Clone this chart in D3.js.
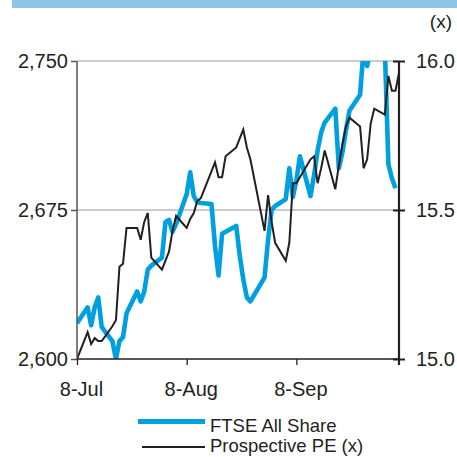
<!DOCTYPE html>
<html>
<head>
<meta charset="utf-8">
<script src="https://cdn.jsdelivr.net/npm/d3@7"></script>
<style>
  html, body { margin: 0; padding: 0; background: #fff; }
  svg { display: block; font-family: "Liberation Sans", Arial, Helvetica, sans-serif; }
</style>
</head>
<body>
<svg id="chart" width="457" height="457"></svg>
<script>
// Daily closes, 8 Jul – 7 Oct 2005 (LSE trading days)
const tradingDays = [
  "2005-07-08","2005-07-11","2005-07-12","2005-07-13","2005-07-14","2005-07-15",
  "2005-07-18","2005-07-19","2005-07-20","2005-07-21","2005-07-22",
  "2005-07-25","2005-07-26","2005-07-27","2005-07-28","2005-07-29",
  "2005-08-01","2005-08-02","2005-08-03","2005-08-04","2005-08-05",
  "2005-08-08","2005-08-09","2005-08-10","2005-08-11","2005-08-12",
  "2005-08-15","2005-08-16","2005-08-17","2005-08-18","2005-08-19",
  "2005-08-22","2005-08-23","2005-08-24","2005-08-25","2005-08-26",
  "2005-08-30","2005-08-31","2005-09-01","2005-09-02",
  "2005-09-05","2005-09-06","2005-09-07","2005-09-08","2005-09-09",
  "2005-09-12","2005-09-13","2005-09-14","2005-09-15","2005-09-16",
  "2005-09-19","2005-09-20","2005-09-21","2005-09-22","2005-09-23",
  "2005-09-26","2005-09-27","2005-09-28","2005-09-29","2005-09-30",
  "2005-10-03","2005-10-04","2005-10-05","2005-10-06","2005-10-07"
];

// FTSE All Share index level (left axis)
const ftseAllShare = [
  2618, 2626, 2617, 2626, 2631, 2616,
  2609, 2600, 2609, 2611, 2623,
  2634, 2629, 2634, 2645, 2647,
  2651, 2669, 2670, 2664, 2668,
  2683, 2694, 2682, 2679, 2678.5,
  2678, 2657, 2642, 2663, 2664,
  2667, 2652, 2640, 2631, 2629,
  2641, 2660, 2675, 2677,
  2680.5, 2696, 2681.5, 2690, 2702,
  2682, 2692.5, 2705, 2714, 2719,
  2726, 2696, 2704, 2715, 2725,
  2733, 2756, 2747.5, 2756, 2756,
  2756, 2698, 2691, 2686, null
];

// Prospective PE multiple (right axis)
const prospectivePE = [
  15.00, 15.09, 15.05, 15.07, 15.06, 15.06,
  15.11, 15.13, 15.31, 15.32, 15.44,
  15.44, 15.40, 15.46, 15.49, 15.34,
  15.30, 15.33, 15.36, 15.43, 15.48,
  15.44, 15.47, 15.49, 15.53, 15.54,
  15.63, 15.66, 15.61, 15.61, 15.68,
  15.71, 15.74, 15.77, 15.71, 15.67,
  15.43, 15.55, 15.46, 15.39,
  15.33, 15.39, 15.59, 15.59, 15.61,
  15.67, 15.68, 15.59, 15.64, 15.70,
  15.57, 15.65, 15.72, 15.78, 15.81,
  15.78, 15.64, 15.67, 15.79, 15.84,
  15.82, 15.95, 15.90, 15.90, 15.96
];

const leftTicks = [2600, 2675, 2750];
const rightTicks = [15.0, 15.5, 16.0];
const xTickDates = ["2005-07-08", "2005-08-08", "2005-09-08"];
const xTickLabels = ["8-Jul", "8-Aug", "8-Sep"];
const seriesNames = ["FTSE All Share", "Prospective PE (x)"];

const parse = d3.utcParse("%Y-%m-%d");
const days = tradingDays.map(parse);

const svg = d3.select("#chart");
const plot = { left: 77, right: 399, top: 61, bottom: 359 };

const x = d3.scaleUtc()
  .domain([parse("2005-07-08"), parse("2005-10-07")])
  .range([plot.left, plot.right]);
const yLeft = d3.scaleLinear().domain([2600, 2750]).range([plot.bottom, plot.top]);
const yRight = d3.scaleLinear().domain([15.0, 16.0]).range([plot.bottom, plot.top]);

// Title band across the top
svg.append("rect")
  .attr("x", 12).attr("y", 0).attr("width", 445).attr("height", 8)
  .attr("fill", "#8cc4ea");

// Unit label for the right axis
svg.append("text")
  .attr("x", 452).attr("y", 28)
  .attr("text-anchor", "end")
  .attr("font-size", 19).attr("fill", "#231f20")
  .text("(x)");

// Horizontal gridlines
svg.append("g")
  .selectAll("line")
  .data(leftTicks.filter(t => t !== 2600))
  .join("line")
  .attr("x1", plot.left).attr("x2", plot.right)
  .attr("y1", d => yLeft(d)).attr("y2", d => yLeft(d))
  .attr("stroke", "#9a9a9a").attr("stroke-width", 1.2);

// Clip series to the plot rectangle
svg.append("clipPath").attr("id", "plot-clip")
  .append("rect")
  .attr("x", plot.left).attr("y", plot.top)
  .attr("width", plot.right - plot.left).attr("height", plot.bottom - plot.top);

const series = svg.append("g").attr("clip-path", "url(#plot-clip)");

const ftseLine = d3.line()
  .defined((d, i) => ftseAllShare[i] !== null)
  .x((d, i) => x(days[i]))
  .y((d, i) => yLeft(ftseAllShare[i]));

const peLine = d3.line()
  .x((d, i) => x(days[i]))
  .y((d, i) => yRight(prospectivePE[i]));

series.append("path")
  .datum(tradingDays)
  .attr("d", ftseLine)
  .attr("fill", "none")
  .attr("stroke", "#00a0e0")
  .attr("stroke-width", 4.6)
  .attr("stroke-linejoin", "round");

series.append("path")
  .datum(tradingDays)
  .attr("d", peLine)
  .attr("fill", "none")
  .attr("stroke", "#231f20")
  .attr("stroke-width", 2)
  .attr("stroke-linejoin", "miter");

// Left axis
const leftAxis = svg.append("g")
  .attr("transform", `translate(${plot.left},0)`)
  .call(d3.axisLeft(yLeft).tickValues(leftTicks).tickFormat(d3.format(",")).tickSize(6).tickPadding(3));
leftAxis.select(".domain").attr("stroke", "#555").attr("stroke-width", 1.5).attr("d", `M0,${plot.top}V${plot.bottom}`);
leftAxis.selectAll(".tick line").attr("stroke", "#555").attr("stroke-width", 1.5);
leftAxis.selectAll(".tick text").attr("font-size", 20).attr("fill", "#231f20").attr("font-family", null);

// Right axis: ticks cross the line
const rightAxis = svg.append("g")
  .attr("transform", `translate(${plot.right},0)`)
  .call(d3.axisRight(yRight).tickValues(rightTicks).tickFormat(d3.format(".1f")).tickSize(6).tickPadding(11));
rightAxis.select(".domain").attr("stroke", "#231f20").attr("stroke-width", 2.2).attr("d", `M0,${plot.top}V${plot.bottom + 6}`);
rightAxis.selectAll(".tick line").attr("x1", -6).attr("x2", 6).attr("stroke", "#231f20").attr("stroke-width", 2);
rightAxis.selectAll(".tick text").attr("font-size", 20).attr("fill", "#231f20").attr("font-family", null);

// Bottom axis
const bottomAxis = svg.append("g")
  .attr("transform", `translate(0,${plot.bottom})`)
  .call(d3.axisBottom(x)
    .tickValues(xTickDates.map(parse))
    .tickFormat((d, i) => xTickLabels[i])
    .tickSize(6).tickPadding(17));
bottomAxis.select(".domain").attr("stroke", "#231f20").attr("stroke-width", 1.5).attr("d", `M${plot.left},0H${plot.right}`);
bottomAxis.selectAll(".tick line").attr("stroke", "#231f20").attr("stroke-width", 1.3);
bottomAxis.selectAll(".tick text").attr("font-size", 20).attr("fill", "#231f20").attr("font-family", null).attr("dx", 4);

// Legend
const legend = svg.append("g");
const legendRows = [
  { name: seriesNames[0], color: "#00a0e0", width: 4.8, x1: 138, y: 421.5, ty: 432 },
  { name: seriesNames[1], color: "#231f20", width: 2.2, x1: 142, y: 447, ty: 452 }
];
legendRows.forEach(r => {
  legend.append("line")
    .attr("x1", r.x1).attr("x2", 205).attr("y1", r.y).attr("y2", r.y)
    .attr("stroke", r.color).attr("stroke-width", r.width);
  legend.append("text")
    .attr("x", 210).attr("y", r.ty)
    .attr("font-size", 18.5).attr("fill", "#231f20")
    .text(r.name);
});
</script>
</body>
</html>
